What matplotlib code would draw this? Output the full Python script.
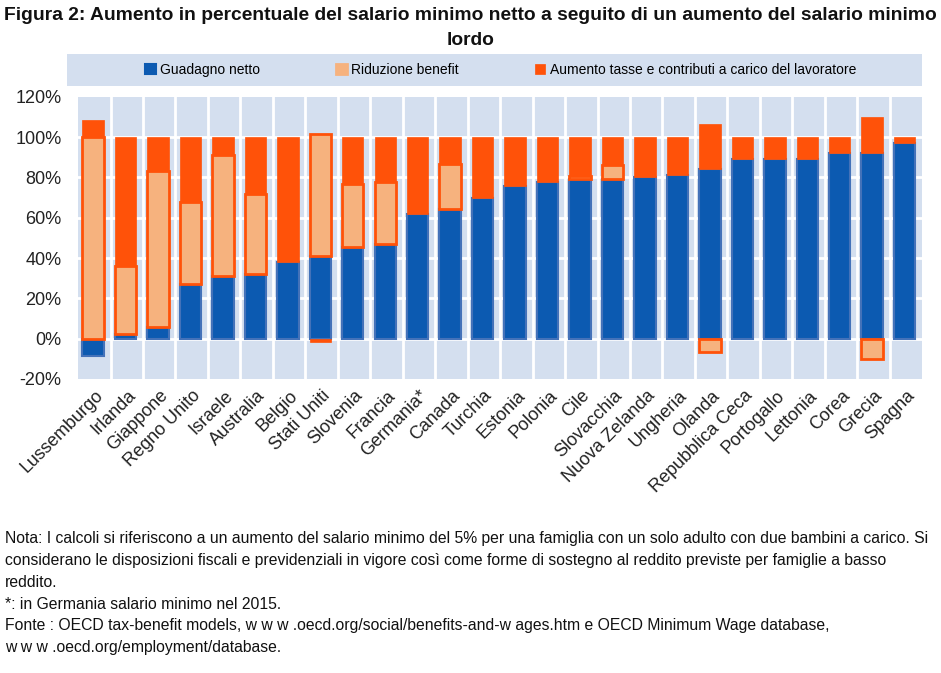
import matplotlib.pyplot as plt
from matplotlib.patches import Rectangle, Patch
import numpy as np

plt.rcParams['font.family'] = ['Liberation Sans', 'DejaVu Sans']

countries = ['Lussemburgo', 'Irlanda', 'Giappone', 'Regno Unito', 'Israele', 'Australia',
             'Belgio', 'Stati Uniti', 'Slovenia', 'Francia', 'Germania*', 'Canada',
             'Turchia', 'Estonia', 'Polonia', 'Cile', 'Slovacchia', 'Nuova Zelanda',
             'Ungheria', 'Olanda', 'Repubblica Ceca', 'Portogallo', 'Lettonia', 'Corea',
             'Grecia', 'Spagna']

# valori in % dell'aumento del salario lordo
guadagno_netto = [-8.5, 2.5, 6, 27, 31, 32, 38, 41, 45.5, 47, 62, 64.5, 70, 76,
                  78, 79, 79, 80, 81, 84, 89, 89, 89, 92, 92, 97]
riduzione_benefit = [100, 33.5, 77, 41, 60, 40, 0, 60.5, 31.5, 31, 0, 22, 0, 0,
                     0, 1.5, 7, 0, 0, -6.5, 0, 0, 0, 0, -10, 0]
aumento_tasse = [8.5, 64, 17, 32, 9, 28, 62, -1.5, 23, 22, 38, 13.5, 30, 24,
                 22, 19.5, 14, 20, 19, 22.5, 11, 11, 11, 8, 18, 3]

yticks = [-20, 0, 20, 40, 60, 80, 100, 120]

BLUE = '#0C5AB1'
BLUE_EDGE = '#4472B9'
ORANGE = '#FF5209'
LIGHT = '#F6B27E'
BG = '#D4DFEF'

fig = plt.figure(figsize=(9.41, 6.73), dpi=100)
ax = fig.add_axes([0.083, 0.437, 0.897, 0.419])
ax.set_facecolor(BG)

x = np.arange(len(countries))
pos = np.zeros(len(countries))
neg = np.zeros(len(countries))
series = [
    (guadagno_netto, dict(color=BLUE, edgecolor=BLUE_EDGE, linewidth=1.5), 'Guadagno netto'),
    (riduzione_benefit, dict(color=LIGHT, edgecolor=ORANGE, linewidth=2), 'Riduzione benefit'),
    (aumento_tasse, dict(color=ORANGE, edgecolor=ORANGE, linewidth=0.5),
     'Aumento tasse e contributi a carico del lavoratore'),
]
handles = []
for vals, style, label in series:
    vals = np.array(vals, dtype=float)
    bottom = np.where(vals >= 0, pos, neg)
    mask = vals != 0
    ax.bar(x[mask] - 0.04, vals[mask], bottom=bottom[mask], width=0.66, zorder=3, **style)
    pos = pos + np.where(vals > 0, vals, 0)
    neg = neg + np.where(vals < 0, vals, 0)
    handles.append(Patch(label=label, **style))

ax.set_xlim(-0.5, len(countries) - 0.5)
ax.set_ylim(-20, 120)
ax.set_yticks(yticks)
ax.set_yticklabels([f'{v}%' for v in yticks], fontsize=13, color='#222222')
ax.set_xticks(x)
ax.set_xticklabels(countries, rotation=45, ha='right', rotation_mode='anchor',
                   fontsize=13, color='#222222')
ax.tick_params(length=0)
ax.tick_params(axis='y', pad=12)
ax.tick_params(axis='x', pad=6)
for s in ax.spines.values():
    s.set_visible(False)
for v in yticks[1:-1]:
    ax.axhline(v, color='white', lw=2, zorder=1)
for b in x[:-1] + 0.5:
    ax.axvline(b, color='white', lw=2, zorder=1)

# riquadro legenda
fig.patches.append(Rectangle((0.0712, 0.8722), 0.9086, 0.0475, transform=fig.transFigure,
                             facecolor=BG, edgecolor='none', zorder=0))
fig.legend(handles=handles, loc='center', bbox_to_anchor=(0.532, 0.896), ncol=3,
           frameon=False, fontsize=10, handlelength=0.75, handleheight=0.75,
           handletextpad=0.3, columnspacing=5.5)

fig.text(0.5, 0.989, 'Figura 2: Aumento in percentuale del salario minimo netto a seguito di un aumento del salario minimo\nlordo',
         ha='center', va='top', fontsize=13.85, fontweight='bold', linespacing=1.59, color='#111111')

note = ('Nota: I calcoli si riferiscono a un aumento del salario minimo del 5% per una famiglia con un solo adulto con due bambini a carico. Si\n'
        'considerano le disposizioni fiscali e previdenziali in vigore così come forme di sostegno al reddito previste per famiglie a basso\n'
        'reddito.\n'
        '*: in Germania salario minimo nel 2015.\n'
        'Fonte : OECD tax-benefit models, w w w .oecd.org/social/benefits-and-w ages.htm e OECD Minimum Wage database,\n'
        'w w w .oecd.org/employment/database.')
fig.text(0.005, 0.211, note, ha='left', va='top', fontsize=11.3, linespacing=1.57, color='#111111')

fig.savefig('out.png', dpi=100)
